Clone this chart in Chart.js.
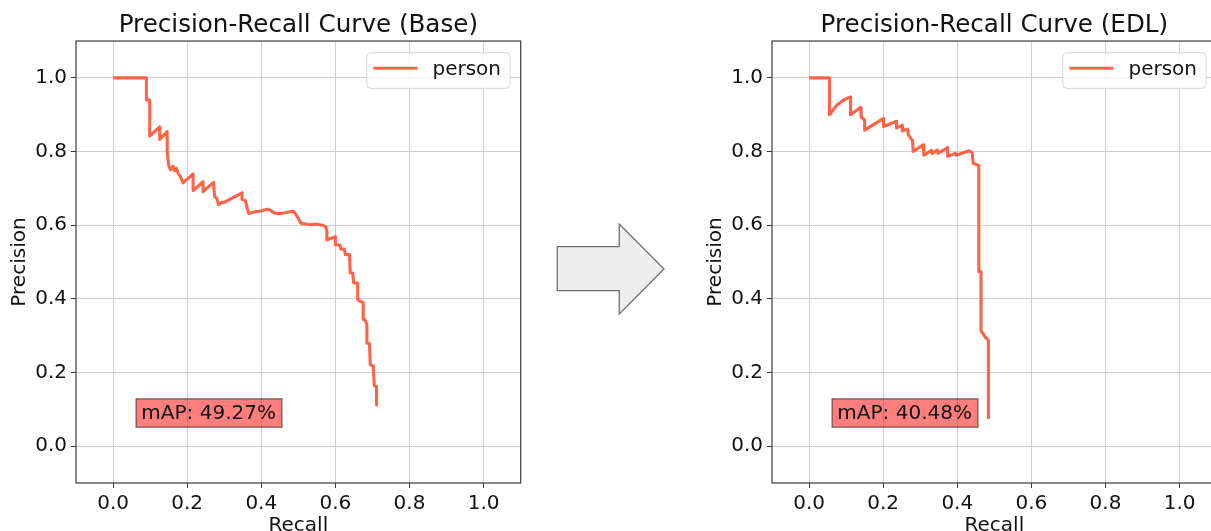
<!DOCTYPE html>
<html><head><meta charset="utf-8">
<script src="https://cdn.jsdelivr.net/npm/chart.js@4.4.0/dist/chart.umd.min.js"></script>
<style>
html,body{margin:0;padding:0;background:#fff;overflow:hidden;width:1211px;height:531px;position:relative;}
.wrap{position:absolute;top:0;width:545px;height:540px;}
#w1{left:0px}
#w2{left:696px}
svg{position:absolute;left:0;top:0}
</style></head><body>
<div class="wrap" id="w1"><canvas id="c1" width="545" height="540"></canvas></div>
<div class="wrap" id="w2"><canvas id="c2" width="545" height="540"></canvas></div>
<svg width="1211" height="531"><polygon points="557.3,246.7 619.3,246.7 619.3,224 664,269 619.3,314 619.3,290.7 557.3,290.7" fill="#eeeeee" stroke="#6e6e6e" stroke-width="1.3"/></svg>
<script>
// ---- data ----
const xTicks = [0, 0.2, 0.4, 0.6, 0.8, 1.0];
const yTicks = [0, 0.2, 0.4, 0.6, 0.8, 1.0];
const chartTitles = ['Precision-Recall Curve (Base)', 'Precision-Recall Curve (EDL)'];
const seriesLabel = 'person';
const mapLabels = ['mAP: 49.27%', 'mAP: 40.48%'];

const baseRecall = [0.000,0.090,0.090,0.099,0.099,0.126,0.126,0.146,0.146,0.150,0.155,0.162,0.166,0.171,0.176,0.182,0.189,0.216,0.216,0.243,0.243,0.271,0.274,0.280,0.285,0.293,0.300,0.348,0.348,0.357,0.361,0.366,0.380,0.395,0.416,0.424,0.433,0.447,0.464,0.487,0.497,0.507,0.532,0.548,0.564,0.574,0.577,0.577,0.591,0.600,0.600,0.612,0.615,0.624,0.627,0.638,0.640,0.647,0.649,0.660,0.660,0.667,0.675,0.675,0.680,0.685,0.685,0.692,0.694,0.702,0.705,0.711,0.711];
const basePrecision = [1.000,1.000,0.940,0.940,0.842,0.867,0.833,0.854,0.800,0.763,0.750,0.760,0.748,0.754,0.740,0.732,0.715,0.739,0.694,0.718,0.691,0.716,0.678,0.672,0.655,0.662,0.662,0.688,0.670,0.667,0.650,0.632,0.636,0.638,0.643,0.641,0.634,0.631,0.634,0.638,0.623,0.605,0.601,0.603,0.600,0.596,0.583,0.560,0.565,0.569,0.547,0.546,0.535,0.535,0.520,0.520,0.470,0.470,0.443,0.443,0.398,0.393,0.390,0.345,0.342,0.330,0.280,0.278,0.221,0.218,0.164,0.162,0.112];

const edlRecall = [0.000,0.055,0.055,0.075,0.093,0.112,0.112,0.140,0.141,0.150,0.150,0.201,0.201,0.236,0.236,0.251,0.252,0.266,0.268,0.275,0.279,0.281,0.308,0.310,0.330,0.332,0.346,0.348,0.374,0.374,0.395,0.397,0.420,0.432,0.440,0.443,0.458,0.458,0.464,0.464,0.470,0.476,0.484,0.484];
const edlPrecision = [1.000,1.000,0.900,0.926,0.940,0.948,0.900,0.920,0.893,0.885,0.858,0.890,0.868,0.882,0.864,0.871,0.856,0.861,0.845,0.835,0.830,0.800,0.818,0.790,0.803,0.795,0.804,0.795,0.811,0.787,0.795,0.790,0.798,0.802,0.797,0.768,0.762,0.474,0.474,0.312,0.305,0.295,0.288,0.077];

// ---- style ----
const FONT = "'DejaVu Sans', sans-serif";
const FS = 20;
const LINE = '#ff6347';
const GRID = '#cfcfcf';
const TXT = '#111111';

const framePlugin = {
  id: 'frame',
  afterDraw(chart) {
    const {ctx, chartArea: a} = chart;
    ctx.save();
    ctx.strokeStyle = '#3a3a3a';
    ctx.lineWidth = 1.2;
    ctx.strokeRect(a.left, a.top, a.right - a.left, a.bottom - a.top);
    ctx.restore();
  }
};

const legendPlugin = {
  id: 'prLegend',
  afterDatasetsDraw(chart) {
    const {ctx, chartArea: a} = chart;
    const ds = chart.data.datasets[0];
    ctx.save();
    ctx.font = FS + 'px ' + FONT;
    const tw = ctx.measureText(ds.label).width;
    const w = 6.7 + 44 + 15 + tw + 9;
    const h = 35.6;
    const x = a.right - 10.7 - w, y = a.top + 11.7;
    const r = 4;
    ctx.beginPath();
    ctx.moveTo(x + r, y);
    ctx.lineTo(x + w - r, y);
    ctx.arcTo(x + w, y, x + w, y + r, r);
    ctx.lineTo(x + w, y + h - r);
    ctx.arcTo(x + w, y + h, x + w - r, y + h, r);
    ctx.lineTo(x + r, y + h);
    ctx.arcTo(x, y + h, x, y + h - r, r);
    ctx.lineTo(x, y + r);
    ctx.arcTo(x, y, x + r, y, r);
    ctx.closePath();
    ctx.fillStyle = 'rgba(255,255,255,0.8)';
    ctx.fill();
    ctx.strokeStyle = '#d6d6d6';
    ctx.lineWidth = 1;
    ctx.stroke();
    ctx.beginPath();
    ctx.moveTo(x + 6.7, y + 15.5);
    ctx.lineTo(x + 50.7, y + 15.5);
    ctx.strokeStyle = ds.borderColor;
    ctx.lineWidth = ds.borderWidth;
    ctx.stroke();
    ctx.fillStyle = TXT;
    ctx.textBaseline = 'middle';
    ctx.textAlign = 'left';
    ctx.fillText(ds.label, x + 65.7, y + 16.8);
    ctx.restore();
  }
};

const mapPlugin = {
  id: 'mapBox',
  afterDatasetsDraw(chart, args, opts) {
    const {ctx, scales} = chart;
    const tx = scales.x.getPixelForValue(opts.x);
    const ty = scales.y.getPixelForValue(opts.y);
    ctx.save();
    ctx.font = FS + 'px ' + FONT;
    const tw = ctx.measureText(opts.text).width;
    const bx = tx - 5.3, by = ty - 14.2, bw = tw + 11.3, bh = 28.4;
    ctx.fillStyle = 'rgba(255,0,0,0.5)';
    ctx.fillRect(bx, by, bw, bh);
    ctx.strokeStyle = 'rgba(0,0,0,0.55)';
    ctx.lineWidth = 1.2;
    ctx.strokeRect(bx, by, bw, bh);
    ctx.fillStyle = TXT;
    ctx.textBaseline = 'middle';
    ctx.textAlign = 'left';
    ctx.fillText(opts.text, tx, ty + 0.5);
    ctx.restore();
  }
};

function makeChart(id, title, rec, prec, mapText) {
  const pts = rec.map((r, i) => ({x: r, y: prec[i]}));
  return new Chart(document.getElementById(id), {
    type: 'scatter',
    data: {datasets: [{
      label: seriesLabel, data: pts, showLine: true,
      borderColor: LINE, backgroundColor: LINE, borderWidth: 3.1,
      pointRadius: 0, pointHoverRadius: 0, tension: 0, fill: false,
      borderJoinStyle: 'round', borderCapStyle: 'butt'
    }]},
    options: {
      responsive: false, animation: false, devicePixelRatio: 1,
      layout: {padding: {left: 0, top: 0, right: 24.3, bottom: 0}},
      plugins: {
        legend: {display: false},
        tooltip: {enabled: false},
        title: {display: true, text: title, fullSize: false, color: TXT,
          font: {family: FONT, size: 24.6, weight: 'normal', lineHeight: 1.2},
          padding: {top: 11, bottom: 0.5}},
        mapBox: {text: mapText, x: 0.0764, y: 0.09}
      },
      scales: {
        x: {
          type: 'linear', min: -0.1, max: 1.1,
          afterFit(s) { s.height = 57; },
          afterBuildTicks(s) { s.ticks = xTicks.map(v => ({value: v})); },
          ticks: {callback: v => Number(v).toFixed(1), color: TXT, font: {family: FONT, size: FS}, padding: 4.2, maxRotation: 0, autoSkip: false},
          grid: {color: GRID, lineWidth: 1, tickLength: 5, tickColor: '#3a3a3a', drawTicks: true},
          border: {display: false},
          title: {display: true, text: 'Recall', color: TXT, font: {family: FONT, size: FS, lineHeight: 1.2}, padding: {top: 0, bottom: 2.5}}
        },
        y: {
          type: 'linear', min: -0.1, max: 1.1,
          afterFit(s) { s.width = 76; },
          afterBuildTicks(s) { s.ticks = yTicks.map(v => ({value: v})); },
          ticks: {callback: v => Number(v).toFixed(1), color: TXT, font: {family: FONT, size: FS}, padding: 4, autoSkip: false},
          grid: {color: GRID, lineWidth: 1, tickLength: 5, tickColor: '#3a3a3a', drawTicks: true},
          border: {display: false},
          title: {display: true, text: 'Precision', color: TXT, font: {family: FONT, size: FS, lineHeight: 1.2}, padding: {top: 8, bottom: 0}}
        }
      }
    },
    plugins: [framePlugin, legendPlugin, mapPlugin]
  });
}

makeChart('c1', chartTitles[0], baseRecall, basePrecision, mapLabels[0]);
makeChart('c2', chartTitles[1], edlRecall, edlPrecision, mapLabels[1]);
</script>
</body></html>
